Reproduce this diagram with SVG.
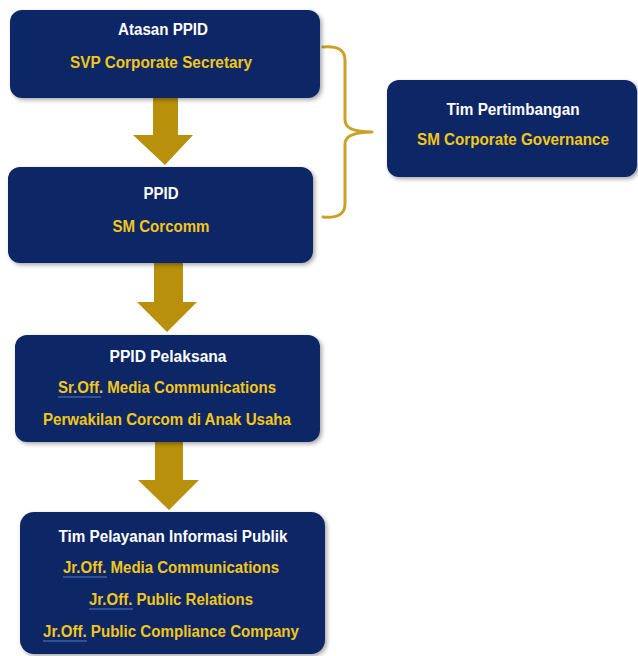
<svg xmlns="http://www.w3.org/2000/svg" width="638" height="656" viewBox="0 0 638 656">
<defs>
<filter id="sh" x="-5%" y="-5%" width="112%" height="115%">
<feDropShadow dx="2" dy="2" stdDeviation="2" flood-color="#000" flood-opacity="0.35"/>
</filter>
</defs>
<style>
.box{fill:#0b2565;filter:url(#sh)}
.t{font-family:"Liberation Sans",Arial,sans-serif;font-weight:bold;font-size:16px;text-anchor:middle}
.w{fill:#ffffff}
.y{fill:#f2c71a}
.arr{fill:#b8900c}
.br{fill:none;stroke:#c9a227;stroke-width:3;stroke-linecap:round;stroke-linejoin:round}
.ul{stroke:#5b78c8;stroke-width:1.2}
</style>
<rect width="638" height="656" fill="#ffffff"/>
<g id="connectors">
<path class="arr" d="M153,98 H178 V135 H193 L165,165 L133,135 H153 Z"/>
<path class="arr" d="M154,263 H183 V302 H197 L167,332 L137,302 H154 Z"/>
<path class="arr" d="M155,442 H183 V480 H199 L169,510 L138,480 H155 Z"/>
<path class="br" d="M323,47 Q345,45 345,60 V120 Q345,132 372,132 Q345,132 345,144 V204 Q345,219 323,217"/>
</g>
<g id="atasan">
<rect class="box" x="10" y="10" width="310" height="88" rx="12"/>
<text class="t w" x="163" y="35" textLength="90" lengthAdjust="spacingAndGlyphs">Atasan PPID</text>
<text class="t y" x="161" y="68" textLength="182" lengthAdjust="spacingAndGlyphs">SVP Corporate Secretary</text>
</g>
<g id="ppid">
<rect class="box" x="8" y="167" width="305" height="96" rx="12"/>
<text class="t w" x="161" y="199" textLength="35" lengthAdjust="spacingAndGlyphs">PPID</text>
<text class="t y" x="161" y="232" textLength="97" lengthAdjust="spacingAndGlyphs">SM Corcomm</text>
</g>
<g id="tim-pertimbangan">
<rect class="box" x="387" y="80" width="250" height="97" rx="12"/>
<text class="t w" x="513" y="115" textLength="133" lengthAdjust="spacingAndGlyphs">Tim Pertimbangan</text>
<text class="t y" x="513" y="145" textLength="192" lengthAdjust="spacingAndGlyphs">SM Corporate Governance</text>
</g>
<g id="ppid-pelaksana">
<rect class="box" x="15" y="335" width="305" height="107" rx="12"/>
<text class="t w" x="168" y="362" textLength="117" lengthAdjust="spacingAndGlyphs">PPID Pelaksana</text>
<text class="t y" x="167" y="393" textLength="218" lengthAdjust="spacingAndGlyphs">Sr.Off. Media Communications</text>
<line class="ul" x1="58" y1="397" x2="101" y2="397"/>
<text class="t y" x="167" y="425" textLength="248" lengthAdjust="spacingAndGlyphs">Perwakilan Corcom di Anak Usaha</text>
</g>
<g id="tim-pelayanan">
<rect class="box" x="20" y="512" width="305" height="142" rx="14"/>
<text class="t w" x="173" y="542" textLength="229" lengthAdjust="spacingAndGlyphs">Tim Pelayanan Informasi Publik</text>
<text class="t y" x="171" y="573" textLength="216" lengthAdjust="spacingAndGlyphs">Jr.Off. Media Communications</text>
<line class="ul" x1="63" y1="577" x2="107" y2="577"/>
<text class="t y" x="171" y="605" textLength="164" lengthAdjust="spacingAndGlyphs">Jr.Off. Public Relations</text>
<line class="ul" x1="89" y1="609" x2="133" y2="609"/>
<text class="t y" x="171" y="637" textLength="256" lengthAdjust="spacingAndGlyphs">Jr.Off. Public Compliance Company</text>
<line class="ul" x1="43" y1="641" x2="87" y2="641"/>
</g>
</svg>
